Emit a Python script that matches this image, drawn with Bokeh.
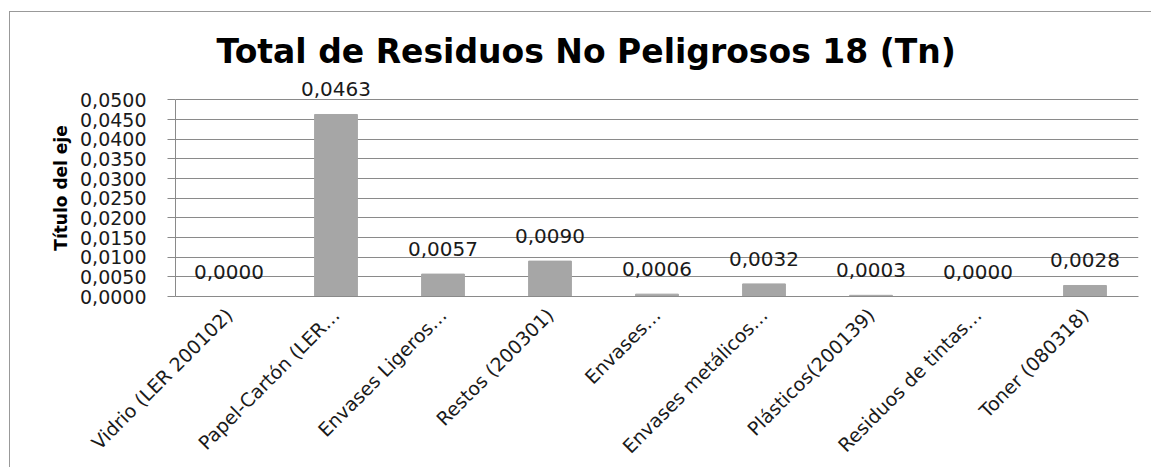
from bokeh.plotting import figure
from bokeh.models import ColumnDataSource, FactorRange, Range1d, FixedTicker, LabelSet
from bokeh.core.properties import value
from bokeh.embed import file_html
from bokeh.resources import INLINE

categories = ["Vidrio (LER 200102)", "Papel-Cartón (LER…", "Envases Ligeros…",
              "Restos (200301)", "Envases…", "Envases metálicos…",
              "Plásticos(200139)", "Residuos de tintas…", "Toner (080318)"]
values = [0.0000, 0.0463, 0.0057, 0.0090, 0.0006, 0.0032, 0.0003, 0.0000, 0.0028]
value_labels = ["0,0000", "0,0463", "0,0057", "0,0090", "0,0006", "0,0032", "0,0003", "0,0000", "0,0028"]
y_ticks = [0.0, 0.005, 0.010, 0.015, 0.020, 0.025, 0.030, 0.035, 0.040, 0.045, 0.050]
y_tick_labels = ["0,0000", "0,0050", "0,0100", "0,0150", "0,0200", "0,0250",
                 "0,0300", "0,0350", "0,0400", "0,0450", "0,0500"]

FONT = "DejaVu Sans"
GRID = "#8a8a8a"
TXT = "#1a1a1a"

src = ColumnDataSource(dict(cat=categories, val=values, lab=value_labels))

p = figure(width=1142, height=456, x_range=FactorRange(*categories, range_padding=0),
           y_range=Range1d(0, 0.0552), output_backend="svg", toolbar_location=None,
           min_border_left=165, min_border_right=14, min_border_top=67, min_border_bottom=170)

p.vbar(x="cat", top="val", width=0.4, source=src, fill_color="#a6a6a6", line_color="#a6a6a6")

labels = LabelSet(x="cat", y="val", text="lab", source=src, text_align="center",
                  text_baseline="alphabetic", y_offset=18, text_font=value(FONT),
                  text_font_size="20px", text_color=TXT)
p.add_layout(labels)

p.title.text = "Total de Residuos No Peligrosos 18 (Tn)"
p.title.text_font = FONT
p.title.text_font_size = "33px"
p.title.text_font_style = "bold"
p.title.align = "left"
p.title.offset = 41
p.title.standoff = 18
p.title.text_color = "#000000"

p.yaxis.ticker = FixedTicker(ticks=y_ticks)
p.yaxis.bounds = (0, 0.05)
p.yaxis.major_label_overrides = {t: l for t, l in zip(y_ticks, y_tick_labels)}
p.yaxis.major_label_text_font = FONT
p.yaxis.major_label_text_font_size = "19px"
p.yaxis.major_label_text_color = TXT
p.yaxis.major_label_standoff = 21
p.yaxis.major_tick_out = 8
p.yaxis.major_tick_in = 0
p.yaxis.minor_tick_line_color = None
p.yaxis.axis_line_color = GRID
p.yaxis.major_tick_line_color = GRID
p.yaxis.axis_label = "Título del eje"
p.yaxis.axis_label_text_font = FONT
p.yaxis.axis_label_text_font_size = "17px"
p.yaxis.axis_label_text_font_style = "bold"
p.yaxis.axis_label_text_color = "#000000"
p.yaxis.axis_label_standoff = 6

p.xaxis.major_label_orientation = 0.785398
p.xaxis.major_label_text_font = FONT
p.xaxis.major_label_text_font_size = "19px"
p.xaxis.major_label_text_color = TXT
p.xaxis.major_tick_line_color = None
p.xaxis.minor_tick_line_color = None
p.xaxis.axis_line_color = GRID
p.xaxis.major_label_standoff = 9

p.xgrid.grid_line_color = None
p.ygrid.grid_line_color = GRID
p.ygrid.ticker = FixedTicker(ticks=y_ticks)
p.outline_line_color = None
p.styles = {"margin-left": "9px", "margin-top": "11px",
            "border-left": "1px solid #999999", "border-top": "1px solid #999999"}

open("out.html", "w").write(file_html(p, INLINE))
